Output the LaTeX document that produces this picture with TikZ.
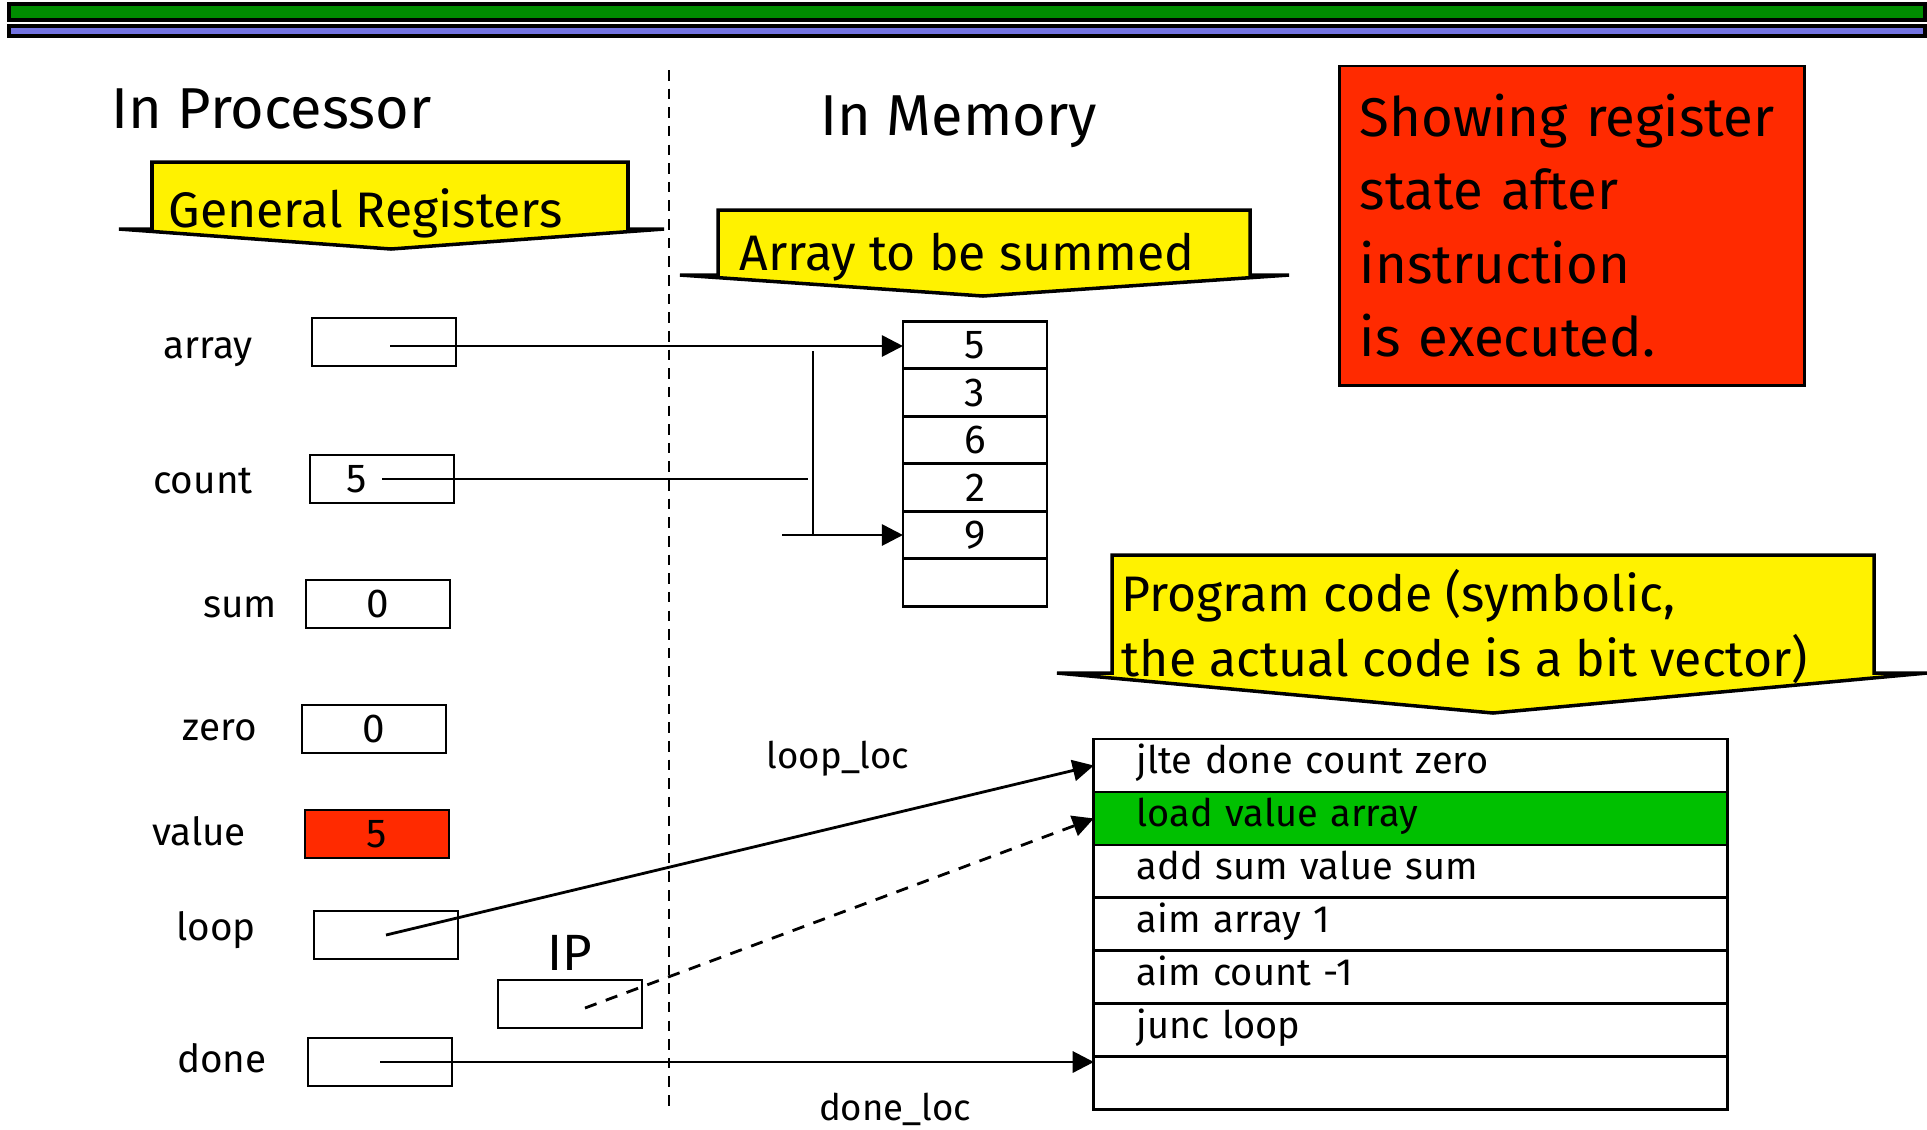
\documentclass[tikz,border=0pt]{standalone}
\usepackage{fontspec}
\setmainfont{Fira Sans}
\usetikzlibrary{positioning,calc}
\usetikzlibrary{arrows.meta}

\definecolor{barGreen}{RGB}{0,140,0}
\definecolor{barBlue}{RGB}{115,115,225}
\definecolor{noteRed}{RGB}{255,42,0}
\definecolor{rowGreen}{RGB}{0,192,0}

\hyphenpenalty=10000

\begin{document}
   \begin{tikzpicture}[x=0.01cm, y=-0.01cm,
         reg/.style = {draw, thick, minimum width=1.44cm, minimum height=0.48cm,
         inner sep=0pt, font=\fontsize{11.5}{13}\selectfont},
         memcell/.style = {draw, thick, minimum width=1.44cm, minimum height=0.475cm,
         inner sep=0pt, outer sep=0pt, font=\fontsize{11.5}{13}\selectfont},
         coderow/.style = {draw, thick, minimum width=6.33cm, minimum height=0.529cm,
         inner xsep=0.43cm, inner ysep=0pt, outer sep=0pt, text width=5.47cm,
         text height=8.5pt, text depth=3.9pt,
         align=left, font=\fontsize{10.8}{13}\selectfont},
         lbl/.style = {inner sep=0pt, anchor=base, font=\fontsize{11}{13}\selectfont},
         ttl/.style = {inner sep=0pt, anchor=base west, font=\fontsize{16.4}{20}\selectfont},
         headtext/.style = {inner sep=0pt, font=\fontsize{14.2}{18.5}\selectfont},
         banner/.style = {draw, line width=1pt, fill=yellow},
         ptr/.style = {thick, -{Triangle[length=6pt, width=6pt]}}
]
         \useasboundingbox (0,0) rectangle (1927,1129);

         % title bars
         \draw[line width=1.2pt, fill=barGreen] (9,4) rectangle (1925,20);
         \draw[line width=1pt, fill=barBlue]    (9,26) rectangle (1925,36);

         % processor / memory split
         \draw[thick, dash pattern=on 3pt off 2.3pt] (669,70) -- (669,1110);
         \node[ttl] (t1) at (111,128) {In Processor};
         \node[ttl] (t2) at (820,135) {In Memory};

         % banners
         \draw[banner] (119,229) -- (391,249) -- (664,229) -- (628,229)
         -- (628,162) -- (152,162) -- (152,229) -- cycle;
         \node[headtext, anchor=base west] (h1) at (168,227) {General Registers};

         \draw[banner] (680,275) -- (983,296) -- (1289,275) -- (1250,275)
         -- (1250,210) -- (718,210) -- (718,275) -- cycle;
         \node[headtext, anchor=base west] (h2) at (739,270) {Array to be summed};

         \draw[banner] (1057,673) -- (1493,713) -- (1927,673) -- (1874,673)
         -- (1874,555) -- (1112,555) -- (1112,673) -- cycle;
         \node[headtext, anchor=north west, align=left] (h3) at (1121,569)
         {Program code (symbolic,\\the actual code is a bit vector)};

         % state note
         \node[draw, thick, fill=noteRed, minimum width=4.64cm, minimum height=3.19cm,
         inner xsep=0.2cm, inner ysep=0pt, text width=4.24cm, align=left,
         font=\fontsize{15.5}{20.8}\selectfont] (note) at (1572,225.5)
         {Showing register\\state after\\instruction\\is executed.};

         % registers
         \node[reg]                (r1) at (384,342)  {};
         \node[reg]                (r2) at (382,479)  {5\kern0.5cm};
         \node[reg]                (r3) at (378,604)  {0};
         \node[reg]                (r4) at (374,729)  {0};
         \node[reg, fill=noteRed]  (r5) at (377,834)  {5};
         \node[reg]                (r6) at (386,935)  {};
         \node[reg]                (ip) at (570,1004) {};
         \node[reg]                (r7) at (380,1062) {};

         \node[lbl] (l1) at (208,358)  {array};
         \node[lbl] (l2) at (203,493)  {count};
         \node[lbl] (l3) at (240,617)  {sum};
         \node[lbl] (l4) at (220,740)  {zero};
         \node[lbl] (l5) at (199,845)  {value};
         \node[lbl] (l6) at (216,940)  {loop};
         \node[lbl] (l7) at (222,1072) {done};
         \node[inner sep=0pt, anchor=base, font=\fontsize{14.5}{17}\selectfont]
         (lip) at (570,970) {IP};

         % array in memory
         \node[memcell]               (m1) at (975,345) {5};
         \node[memcell, below=0pt of m1] (m2) {3};
         \node[memcell, below=0pt of m2] (m3) {6};
         \node[memcell, below=0pt of m3] (m4) {2};
         \node[memcell, below=0pt of m4] (m5) {9};
         \node[memcell, below=0pt of m5] (m6) {};

         % program code
         \node[coderow]                (c1) at (1410.5,765.5) {jlte done count zero};
         \node[coderow, fill=rowGreen, below=0pt of c1] (c2) {load value array};
         \node[coderow, below=0pt of c2] (c3) {add sum value sum};
         \node[coderow, below=0pt of c3] (c4) {aim array 1};
         \node[coderow, below=0pt of c4] (c5) {aim count -1};
         \node[coderow, below=0pt of c5] (c6) {junc loop};
         \node[coderow, below=0pt of c6] (c7) {};

         \node[lbl, font=\fontsize{10.4}{13}\selectfont] (a1) at (838,768)  {loop\_loc};
         \node[lbl, font=\fontsize{10.4}{13}\selectfont] (a2) at (895,1120) {done\_loc};

         % pointers
         \coordinate (b1) at (813,351);
         \coordinate (b2) at (782,535);
         \coordinate (p0) at (390,346);
         \coordinate (p1) at (585,1008);

         \draw[ptr] (p0) -- (p0 -| m1.west);
         \draw[thick] (r2.center) -- ($(r2.center -| b1)+(-5,0)$);
         \draw[thick] (b1) -- (b1 |- b2);
         \draw[ptr] (b2) -- (b2 -| m5.west);

         \draw[ptr] (r6.center) -- (c1.west);
         \draw[ptr, dash pattern=on 3.5pt off 2.8pt] (p1) -- (c2.west);
         \draw[ptr] (r7.center) -- (r7.center -| c7.west);

   \end{tikzpicture}
\end{document}
